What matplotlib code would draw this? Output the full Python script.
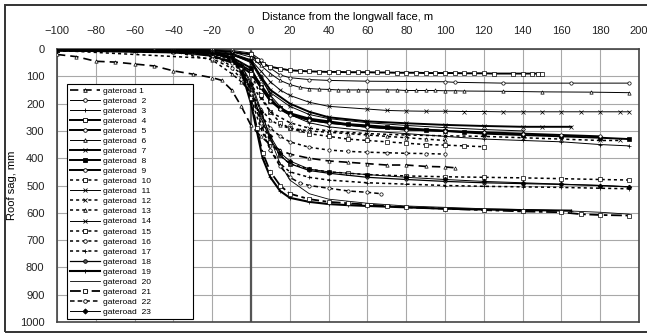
import matplotlib
matplotlib.use("Agg")
import matplotlib.pyplot as plt
from matplotlib.lines import Line2D

# ---------------------------------------------------------------------------
# Datos: hundimiento del techo (mm) vs distancia al frente
# ---------------------------------------------------------------------------
x_g1 = [-100, -90, -80, -70, -60, -50, -40, -30, -20, -15, -10, -5, 0, 5, 10, 15, 20, 30, 40, 50, 60, 70, 80, 90, 100, 105]
y_g1 = [20, 28, 45, 48, 55, 62, 80, 92, 105, 115, 150, 210, 280, 320, 350, 370, 385, 400, 410, 415, 420, 425, 425, 430, 432, 435]

x_g2 = [-100, -60, -40, -20, -10, 0, 5, 10, 15, 20, 30, 40, 60, 100, 105, 130, 165, 195]
y_g2 = [0, 0, 2, 3, 5, 15, 40, 70, 95, 105, 112, 115, 118, 120, 122, 125, 125, 125]

x_g3 = [-100, -80, -60, -40, -20, -10, 0, 5, 10, 15, 20, 30, 40, 60, 80, 100, 120, 140, 160, 180, 195]
y_g3 = [5, 5, 6, 8, 12, 20, 40, 100, 170, 210, 240, 270, 285, 300, 310, 320, 330, 335, 340, 350, 355]

x_g4 = [-100, -80, -60, -40, -20, -10, 0, 3, 6, 10, 15, 20, 25, 30, 35, 40, 45, 50, 55, 60, 65, 70, 75, 80, 85,
        90, 95, 100, 105, 110, 115, 120, 125, 135, 140, 145, 148, 150]
y_g4 = [0, 0, 2, 3, 5, 10, 20, 40, 55, 65, 72, 78, 80, 82, 83, 84, 84, 85, 85, 85, 86, 86, 87, 87, 87,
        88, 88, 88, 88, 89, 89, 89, 90, 90, 90, 90, 90, 90]

x_g5 = [-100, -60, -30, -20, -10, -5, 0, 5, 10, 15, 20, 30, 40, 60, 80, 100]
y_g5 = [3, 4, 10, 25, 45, 60, 80, 130, 180, 220, 240, 260, 270, 285, 295, 300]

x_g6 = [-100, -40, -20, -10, 0, 5, 10, 15, 20, 25, 30, 35, 40, 45, 50, 55, 60, 70, 75, 80, 85, 90, 95, 100,
        105, 110, 130, 150, 175, 195]
y_g6 = [2, 3, 5, 10, 30, 60, 90, 115, 130, 140, 145, 147, 148, 150, 150, 150, 150, 150, 150, 152, 152, 152, 152, 153,
        153, 154, 155, 157, 158, 160]

x_g7 = [-100, -60, -40, -20, -10, 0, 5, 10, 20, 30, 40, 60, 80, 100, 120, 140, 150, 165]
y_g7 = [5, 6, 8, 12, 20, 45, 100, 150, 200, 230, 250, 265, 272, 278, 282, 285, 285, 285]

x_g8 = [-100, -40, -20, -10, 0, 5, 10, 15, 20, 30, 40, 50, 60, 70, 80, 90, 100, 110, 120, 140, 160, 180, 195]
y_g8 = [5, 8, 15, 30, 70, 140, 190, 215, 235, 255, 265, 275, 280, 285, 290, 295, 300, 305, 310, 315, 320, 325, 330]

x_g9 = [-100, -50, -20, -10, -5, 0, 5, 10, 15, 20, 30, 40, 60, 80, 100, 120, 140, 160, 180]
y_g9 = [3, 5, 25, 50, 65, 90, 140, 190, 220, 240, 260, 270, 285, 295, 300, 305, 310, 315, 320]

x_g10 = [-100, -40, -20, -10, 0, 5, 10, 15, 20, 30, 40, 50, 60, 70, 80, 90, 100, 110, 120]
y_g10 = [5, 8, 15, 35, 90, 170, 230, 270, 290, 310, 320, 330, 335, 340, 345, 350, 352, 355, 358]

x_g11 = [-100, -60, -30, -20, -10, 0, 5, 10, 15, 20, 30, 40, 60, 70, 80, 90, 100, 110, 120, 130, 140, 150,
         160, 170, 180, 190, 195]
y_g11 = [2, 3, 5, 8, 15, 40, 80, 120, 150, 170, 195, 210, 220, 225, 227, 228, 228, 229, 229, 230, 230, 230,
         230, 230, 230, 230, 230]

x_g12 = [-100, -30, -15, -5, 0, 5, 10, 20, 30, 40, 60, 80, 100, 120, 140, 160, 180, 190]
y_g12 = [5, 10, 40, 90, 130, 180, 230, 270, 290, 300, 310, 315, 318, 320, 325, 330, 335, 335]

x_g13 = [-100, -40, -20, -10, -5, 0, 5, 10, 15, 20, 25, 30, 40, 50, 60, 70, 80, 90, 100]
y_g13 = [5, 10, 40, 90, 120, 160, 220, 260, 280, 290, 295, 300, 305, 310, 315, 320, 325, 330, 335]

x_g14 = [-100, -40, -20, -10, 0, 5, 10, 20, 30, 40, 60, 80, 100, 120, 140]
y_g14 = [3, 5, 10, 20, 50, 110, 160, 210, 240, 255, 270, 280, 288, 295, 300]

x_g15 = [-100, -30, -15, -5, 0, 5, 10, 15, 20, 30, 40, 50, 60, 80, 100, 120, 140, 160, 180, 195]
y_g15 = [5, 10, 25, 60, 150, 260, 340, 390, 420, 440, 450, 455, 460, 465, 468, 470, 472, 475, 478, 480]

x_g16 = [-100, -20, -10, -5, 0, 5, 10, 15, 20, 30, 40, 50, 60, 70, 80, 90, 100]
y_g16 = [5, 35, 70, 110, 170, 240, 290, 320, 340, 360, 370, 375, 378, 380, 382, 383, 385]

x_g17 = [-100, -20, -10, -5, 0, 5, 10, 15, 20, 30, 40, 60, 80, 100, 120, 140, 160, 180, 195]
y_g17 = [5, 15, 40, 90, 180, 290, 370, 420, 450, 470, 480, 490, 495, 500, 503, 505, 507, 510, 512]

x_g18 = [-100, -20, -10, -5, 0, 5, 10, 15, 20, 30, 40, 60, 80, 100, 120, 140, 160, 180, 195]
y_g18 = [5, 10, 30, 70, 150, 250, 330, 390, 420, 445, 455, 470, 478, 485, 490, 493, 496, 500, 505]

x_g19 = [-100, -20, -10, -5, 0, 3, 6, 10, 15, 20, 30, 40, 50, 60, 80, 100, 120, 140, 165]
y_g19 = [5, 15, 35, 80, 200, 300, 400, 470, 520, 545, 560, 568, 572, 575, 580, 585, 588, 590, 592]

x_g20 = [-100, -20, -10, -5, 0, 5, 10, 15, 20, 30, 40, 60, 80, 100, 120, 140, 160, 180, 195]
y_g20 = [3, 10, 30, 60, 120, 220, 330, 420, 480, 530, 550, 565, 575, 580, 585, 588, 592, 598, 605]

x_g21 = [-100, -20, -10, -5, 0, 3, 6, 10, 15, 20, 30, 40, 50, 60, 70, 80, 100, 120, 140, 160, 170, 180, 195]
y_g21 = [5, 10, 30, 70, 180, 290, 380, 450, 500, 530, 550, 560, 565, 570, 575, 580, 585, 590, 595, 598, 605, 608, 610]

x_g22 = [-100, -20, -10, -5, 0, 5, 10, 15, 20, 25, 30, 40, 50, 60, 67]
y_g22 = [5, 10, 30, 70, 160, 270, 370, 430, 470, 490, 500, 510, 520, 525, 530]

x_g23 = [-100, -30, -20, -10, -5, 0, 5, 10, 15, 20, 30, 40, 60, 80, 100, 120, 140, 160, 180, 195]
y_g23 = [5, 8, 15, 30, 60, 130, 230, 320, 380, 410, 440, 450, 460, 470, 478, 485, 490, 495, 500, 505]

labels = ["gateroad 1"] + [f"gateroad  {n}" for n in range(2, 24)]

series = [(x_g1, y_g1), (x_g2, y_g2), (x_g3, y_g3), (x_g4, y_g4), (x_g5, y_g5), (x_g6, y_g6),
          (x_g7, y_g7), (x_g8, y_g8), (x_g9, y_g9), (x_g10, y_g10), (x_g11, y_g11), (x_g12, y_g12),
          (x_g13, y_g13), (x_g14, y_g14), (x_g15, y_g15), (x_g16, y_g16), (x_g17, y_g17), (x_g18, y_g18),
          (x_g19, y_g19), (x_g20, y_g20), (x_g21, y_g21), (x_g22, y_g22), (x_g23, y_g23)]

# estilos: (linestyle, linewidth, marker, relleno)
DOT = (0, (2, 2))
styles = [
    ((0, (5, 3)), 1.2, "^", "white"),   # 1
    ("-", 0.7, "o", "white"),           # 2
    ("-", 0.7, "+", "black"),           # 3
    ("-", 1.4, "s", "white"),           # 4
    ("-", 1.4, "o", "white"),           # 5
    ("-", 0.7, "^", "white"),           # 6
    ("-", 1.4, "x", "black"),           # 7
    ("-", 1.4, "s", "black"),           # 8
    ("-", 1.4, "o", "white"),           # 9
    (DOT, 1.1, "s", "white"),           # 10
    ("-", 0.7, "x", "black"),           # 11
    (DOT, 1.1, "x", "black"),           # 12
    (DOT, 1.1, "^", "white"),           # 13
    ("-", 0.7, "x", "black"),           # 14
    (DOT, 1.1, "s", "white"),           # 15
    (DOT, 1.1, "o", "white"),           # 16
    (DOT, 1.1, "+", "black"),           # 17
    ("-", 0.9, "o", "#555555"),         # 18
    ("-", 1.5, "+", "black"),           # 19
    ("-", 0.6, None, "black"),          # 20
    ((0, (6, 2, 2, 2)), 1.3, "s", "white"),  # 21
    ((0, (3, 2)), 1.1, "o", "white"),   # 22
    ("-", 0.7, "D", "black"),           # 23
]

plt.rcParams.update({
    "font.family": ["Liberation Sans", "DejaVu Sans"],
    "font.size": 8,
})

fig = plt.figure(figsize=(6.47, 3.35), dpi=100, facecolor="white")
ax = fig.add_axes([57 / 647, 1 - 322 / 335, 582 / 647, 273 / 335])

handles = []
for (xs, ys), (ls, lw, mk, fc), lab in zip(series, styles, labels):
    ax.plot(xs, ys, linestyle=ls, linewidth=lw, color="black", marker=mk,
            markersize=2.4, markerfacecolor=fc, markeredgecolor="black",
            markeredgewidth=0.5, zorder=3)
    handles.append(Line2D([], [], linestyle=ls, linewidth=lw, color="black", marker=mk,
                          markersize=2.6, markerfacecolor=fc, markeredgecolor="black",
                          markeredgewidth=0.6, label=lab))

ax.set_xlim(-100, 200)
ax.set_ylim(1000, 0)
ax.set_xticks(range(-100, 201, 20))
ax.set_yticks(range(0, 1001, 100))
ax.xaxis.tick_top()
ax.xaxis.set_label_position("top")
ax.tick_params(length=0, labelsize=8, colors="#222222")
ax.tick_params(axis="x", pad=9)
ax.tick_params(axis="y", pad=9)
ax.set_xlabel("Distance from the longwall face, m", fontsize=8, labelpad=5)
ax.set_ylabel("Roof sag, mm", fontsize=8, labelpad=2)

ax.grid(True, color="#a8a8a8", linewidth=0.8, zorder=0)
ax.set_axisbelow(True)
ax.axvline(0, color="#555555", linewidth=1.6, zorder=2)
for s in ax.spines.values():
    s.set_color("#444444")
    s.set_linewidth(1.2)

# leyenda con caja fija (como en Excel), entradas alineadas a la izquierda
leg = ax.legend(handles=handles, loc="upper left", mode="expand",
                bbox_to_anchor=(0.017, 0.015, 0.217, 0.857),
                fontsize=6.1, frameon=True, fancybox=False, framealpha=1,
                edgecolor="black", handlelength=3.6, handletextpad=0.3,
                labelspacing=0.25, borderpad=0.35, borderaxespad=0)
leg.get_frame().set_linewidth(0.8)
leg.set_zorder(5)

# marco exterior de la figura
fig.add_artist(plt.Rectangle((5 / 647, 3 / 335), 650 / 647, 327 / 335,
                             transform=fig.transFigure, fill=False,
                             edgecolor="#333333", linewidth=1.4))

fig.savefig("out.png", dpi=100)
